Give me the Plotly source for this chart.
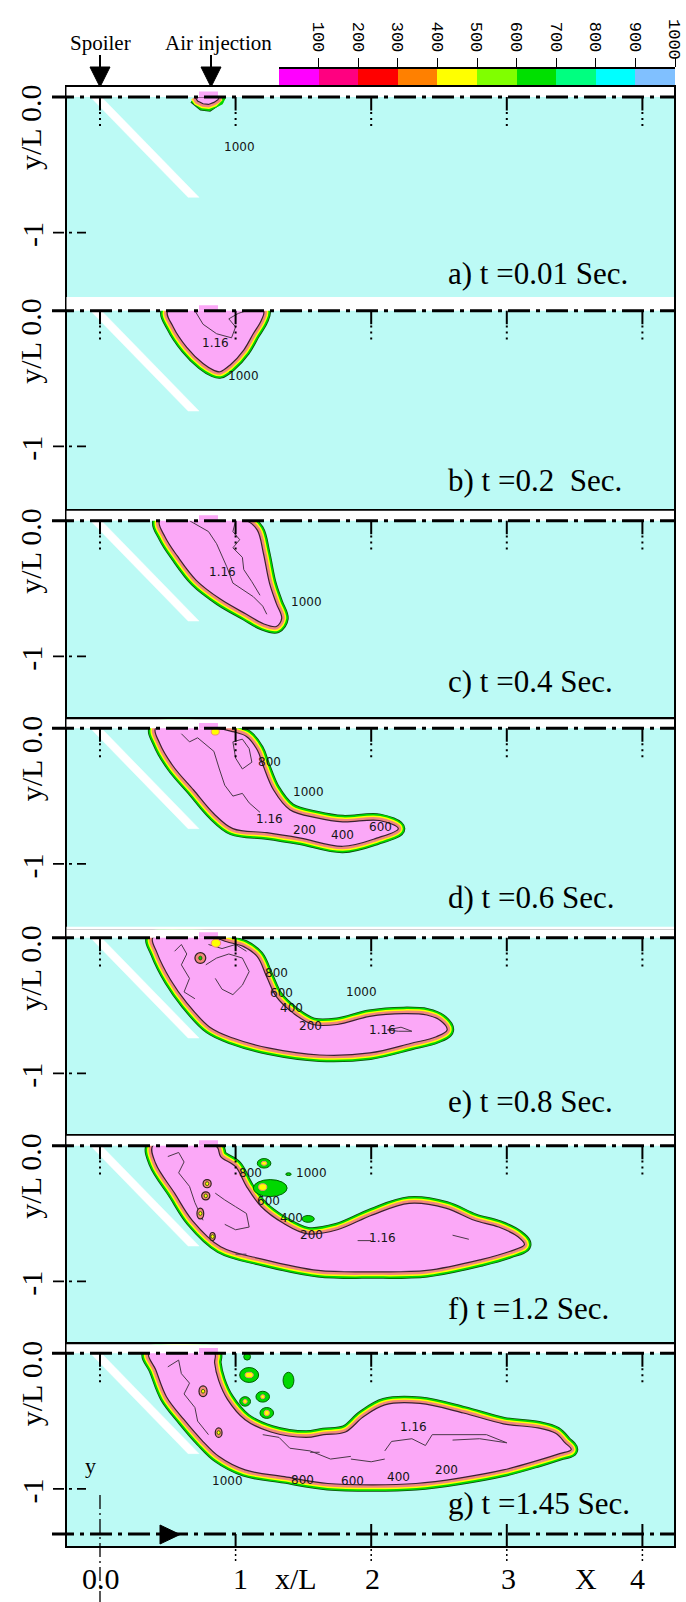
import plotly.graph_objects as go

# ---------------- layout geometry (pixels of the 686x1602 page) ----------------
W, H = 686, 1602
S = 135.6                       # px per unit x/L = y/L (equal aspect)
FRAME_L, FRAME_R, X0_PX = 66.5, 674.0, 100.0
XMIN = (FRAME_L - X0_PX) / S
XMAX = (FRAME_R - X0_PX) / S
panel_top_px = [87, 302, 510.7, 719.3, 929.3, 1135.7, 1344.3]
panel_y0_px = [97, 310.7, 520.7, 728.3, 937.7, 1145.7, 1353.3]
panel_bot_px = [302, 510.7, 719.3, 929.3, 1135.7, 1344.3, 1546]
cyan_bot_px = [297, 510.7, 719.3, 926.7, 1135.7, 1344.3, 1546]
title_px = [274, 480, 682, 897, 1101, 1308, 1503]

# ---------------- data ----------------
panel_titles = ["a) t =0.01 Sec.", "b) t =0.2\u00a0 Sec.", "c) t =0.4 Sec.", "d) t =0.6 Sec.",
                "e) t =0.8 Sec.", "f) t =1.2 Sec.", "g) t =1.45 Sec."]
x_ticks = [0, 1, 2, 3, 4]
cbar_levels = [100, 200, 300, 400, 500, 600, 700, 800, 900, 1000]
cbar_colors = ["#FF00FF", "#FF0080", "#FF0000", "#FF8000", "#FFFF00",
               "#80FF00", "#00E000", "#00FF80", "#00FFFF", "#80C0FF"]

spoiler_x = [-0.07, 0.01, 0.73, 0.65]
spoiler_y = [0.0, 0.0, -0.74, -0.74]
inlet_x = [0.73, 0.87]
inlet_y = [0.0, 0.04]

a_plume_x = [0.70, 0.72, 0.76, 0.80, 0.84, 0.87, 0.88]
a_plume_y = [0.0, -0.03, -0.05, -0.055, -0.04, -0.02, 0.0]
b_plume_x = [0.50, 0.54, 0.64, 0.76, 0.84, 0.885, 0.96, 1.06, 1.13, 1.19, 1.205]
b_plume_y = [0.0, -0.12, -0.27, -0.39, -0.44, -0.45, -0.40, -0.29, -0.17, -0.07, 0.0]
c_plume_x = [0.44, 0.48, 0.57, 0.71, 0.89, 1.08, 1.205, 1.30, 1.34, 1.30, 1.25, 1.205, 1.16, 1.08]
c_plume_y = [0.0, -0.12, -0.26, -0.44, -0.58, -0.69, -0.76, -0.78, -0.72, -0.61, -0.46, -0.24, -0.07, 0.0]
d_plume_x = [0.41, 0.44, 0.54, 0.69, 0.84, 0.98, 1.23, 1.48, 1.79, 2.04, 2.20, 2.06, 1.79, 1.60,
             1.40, 1.28, 1.205, 1.16, 1.08, 0.98, 0.86]
d_plume_y = [0.0, -0.11, -0.28, -0.455, -0.63, -0.74, -0.77, -0.81, -0.87, -0.81, -0.74, -0.68, -0.69,
             -0.66, -0.60, -0.455, -0.28, -0.16, -0.06, -0.025, 0.0]
e_plume_x = [0.39, 0.42, 0.52, 0.64, 0.81, 0.98, 1.25, 1.62, 1.99, 2.29, 2.48, 2.56, 2.51, 2.41, 2.24,
             1.99, 1.75, 1.57, 1.43, 1.30, 1.23, 1.16, 1.06, 0.935, 0.84]
e_plume_y = [0.0, -0.11, -0.31, -0.48, -0.66, -0.74, -0.815, -0.865, -0.85, -0.78, -0.73, -0.68, -0.61,
             -0.57, -0.56, -0.58, -0.64, -0.64, -0.56, -0.435, -0.29, -0.14, -0.066, -0.03, 0.0]
f_plume_x = [0.39, 0.41, 0.55, 0.68, 0.89, 1.21, 1.61, 2.01, 2.41, 2.81, 3.02, 3.13, 3.08, 2.94, 2.76,
             2.55, 2.28, 2.01, 1.75, 1.53, 1.35, 1.19, 1.08, 1.00, 0.89, 0.87, 0.85]
f_plume_y = [0.0, -0.13, -0.35, -0.55, -0.745, -0.84, -0.92, -0.93, -0.92, -0.84, -0.78, -0.73, -0.67,
             -0.60, -0.55, -0.46, -0.425, -0.51, -0.62, -0.65, -0.57, -0.45, -0.30, -0.155, -0.08, -0.02, 0.0]
g_plume_x = [0.36, 0.41, 0.49, 0.62, 0.75, 0.875, 1.07, 1.36, 1.68, 2.01, 2.33, 2.65, 2.975, 3.23, 3.39,
             3.475, 3.43, 3.36, 3.23, 2.975, 2.68, 2.36, 2.10, 1.94, 1.81, 1.65, 1.52, 1.26, 1.07, 0.94,
             0.875, 0.845, 0.845]
g_plume_y = [0.0, -0.12, -0.32, -0.49, -0.64, -0.76, -0.86, -0.91, -0.96, -0.97, -0.96, -0.92, -0.86,
             -0.79, -0.74, -0.71, -0.66, -0.59, -0.55, -0.52, -0.44, -0.37, -0.38, -0.47, -0.58, -0.6,
             -0.62, -0.58, -0.49, -0.34, -0.20, -0.07, 0.0]

# inner 1.16 iso-lines (x list, y list) per panel
b_iso = [([0.70, 0.76, 0.86, 0.97, 1.0, 0.95, 1.02, 1.08], [0.0, -0.1, -0.17, -0.2, -0.12, -0.06, -0.02, 0.0])]
c_iso = [([0.66, 0.80, 0.86, 0.935, 0.98, 1.13, 1.20, 1.23], [0.0, -0.08, -0.17, -0.34, -0.46, -0.56, -0.63, -0.69]),
         ([1.0, 0.98, 1.03, 0.98, 1.05, 1.06, 1.12, 1.18], [0.0, -0.08, -0.14, -0.2, -0.27, -0.36, -0.45, -0.55])]
d_iso = [([0.6, 0.66, 0.72, 0.78, 0.84, 0.88, 0.92, 0.98, 1.05, 1.1, 1.18],
          [-0.04, -0.1, -0.07, -0.12, -0.17, -0.3, -0.42, -0.5, -0.48, -0.55, -0.62]),
         ([0.98, 1.05, 1.1, 1.12, 1.05, 1.0, 0.98], [-0.1, -0.08, -0.15, -0.25, -0.3, -0.22, -0.1])]
e_iso = [([0.55, 0.6, 0.64, 0.6, 0.66, 0.62, 0.7], [-0.1, -0.05, -0.12, -0.2, -0.3, -0.4, -0.45]),
         ([0.78, 0.86, 0.95, 1.05, 1.1, 1.05, 0.98, 0.9, 0.85], [-0.2, -0.15, -0.12, -0.15, -0.25, -0.35, -0.42, -0.38, -0.3]),
         ([0.8, 0.9, 1.0, 1.08], [-0.05, -0.08, -0.05, -0.1]),
         ([2.12, 2.22, 2.3, 2.2, 2.12], [-0.68, -0.66, -0.69, -0.69, -0.68])]
f_iso = [([0.5, 0.58, 0.62, 0.58, 0.66, 0.7, 0.76], [-0.08, -0.05, -0.12, -0.2, -0.3, -0.42, -0.55]),
         ([0.85, 0.92, 1.0, 1.08, 1.1, 1.0, 0.92], [-0.35, -0.4, -0.45, -0.5, -0.6, -0.62, -0.58]),
         ([1.0, 1.08], [-0.8, -0.8]), ([1.9, 2.0], [-0.7, -0.7]), ([2.6, 2.72], [-0.66, -0.69])]
g_iso = [([0.5, 0.58, 0.6, 0.66, 0.62, 0.7, 0.72, 0.8], [-0.1, -0.05, -0.15, -0.22, -0.3, -0.4, -0.5, -0.6]),
         ([1.2, 1.32, 1.4, 1.55, 1.7, 1.85], [-0.6, -0.62, -0.7, -0.72, -0.78, -0.76]),
         ([2.1, 2.15, 2.3, 2.4, 2.45, 2.6, 2.85, 3.0, 2.8, 2.6], [-0.72, -0.65, -0.63, -0.68, -0.6, -0.6, -0.6, -0.66, -0.63, -0.64]),
         ([1.85, 2.0, 2.1], [-0.78, -0.8, -0.78]), ([1.55, 1.62], [-0.73, -0.73])]

# contour labels
a_lbl = (["1000"], [1.03], [-0.37])
b_lbl = (["1.16", "1000"], [0.85, 1.06], [-0.24, -0.48])
c_lbl = (["1.16", "1000"], [0.905, 1.525], [-0.38, -0.60])
d_lbl = (["800", "1000", "1.16", "200", "400", "600"], [1.25, 1.54, 1.25, 1.51, 1.79, 2.07],
         [-0.25, -0.47, -0.67, -0.75, -0.79, -0.725])
e_lbl = (["800", "600", "400", "200", "1000", "1.16"], [1.30, 1.34, 1.41, 1.55, 1.93, 2.08],
         [-0.26, -0.41, -0.52, -0.65, -0.40, -0.68])
f_lbl = (["800", "1000", "600", "400", "200", "1.16"], [1.11, 1.56, 1.24, 1.41, 1.56, 2.08],
         [-0.20, -0.20, -0.41, -0.535, -0.66, -0.68])
g_lbl = (["1.16", "200", "400", "600", "800", "1000"], [2.31, 2.555, 2.20, 1.86, 1.49, 0.94],
         [-0.54, -0.86, -0.91, -0.94, -0.935, -0.94])

# isolated blobs: (x0, x1, y0, y1) bounding boxes
d_spots = [(0.82, 0.88, -0.05, 0.0)]
e_spots = [(0.82, 0.89, -0.07, -0.01)]
e_rings = [(0.70, 0.78, -0.19, -0.11)]
f_green = [(1.16, 1.26, -0.165, -0.095), (1.13, 1.38, -0.375, -0.25), (1.49, 1.58, -0.565, -0.515), (1.37, 1.41, -0.22, -0.2)]
f_yellow = [(1.19, 1.23, -0.145, -0.115), (1.17, 1.23, -0.33, -0.28)]
f_rings = [(0.76, 0.82, -0.31, -0.25), (0.75, 0.81, -0.40, -0.34), (0.715, 0.765, -0.54, -0.46), (0.81, 0.85, -0.70, -0.64)]
g_green = [(1.03, 1.17, -0.215, -0.105), (1.35, 1.43, -0.26, -0.14), (1.15, 1.25, -0.36, -0.28),
           (1.03, 1.11, -0.39, -0.32), (1.18, 1.28, -0.48, -0.40), (1.06, 1.11, -0.05, 0.0)]
g_yellow = [(1.07, 1.13, -0.18, -0.14), (1.185, 1.215, -0.335, -0.305), (1.055, 1.085, -0.37, -0.34), (1.21, 1.25, -0.46, -0.42)]
g_rings = [(0.73, 0.79, -0.32, -0.24), (0.85, 0.90, -0.62, -0.55)]

plumes = [(a_plume_x, a_plume_y), (b_plume_x, b_plume_y), (c_plume_x, c_plume_y), (d_plume_x, d_plume_y),
          (e_plume_x, e_plume_y), (f_plume_x, f_plume_y), (g_plume_x, g_plume_y)]
isos = [[], b_iso, c_iso, d_iso, e_iso, f_iso, g_iso]
labels = [a_lbl, b_lbl, c_lbl, d_lbl, e_lbl, f_lbl, g_lbl]
greens = [[], [], [], [], [], f_green, g_green]
yellows = [[], [], [], d_spots, e_spots, f_yellow, g_yellow]
rings = [[], [], [], [], e_rings, f_rings, g_rings]

# ---------------- styles ----------------
CYAN = "#BCFAF5"
PINK = "#FBA8F7"
SALMON = "#F2877E"
YELLOW = "#FFFF00"
GREEN = "#00D800"
SERIF = "Liberation Serif"


def pxx(p):
    return p / W


def pxy(p):
    return 1 - p / H


fig = go.Figure()
shapes = []
annotations = []
layout = {}

for i in range(7):
    n = "" if i == 0 else str(i + 1)
    xa, ya = "x" + n, "y" + n
    top, y0, bot = panel_top_px[i], panel_y0_px[i], panel_bot_px[i]
    ax_style = dict(showline=True, mirror=True, linecolor="black", linewidth=1.5,
                    showgrid=False, zeroline=False, showticklabels=False, ticks="", fixedrange=True)
    layout["xaxis" + n] = dict(domain=[pxx(FRAME_L), pxx(FRAME_R)], range=[XMIN, XMAX], anchor=ya, **ax_style)
    layout["yaxis" + n] = dict(domain=[pxy(bot), pxy(top)], range=[-(bot - y0) / S, (y0 - top) / S],
                               anchor=xa, **ax_style)

    # spoiler (white stripe)
    fig.add_trace(go.Scatter(x=spoiler_x + [spoiler_x[0]], y=spoiler_y + [spoiler_y[0]], mode="lines",
                             fill="toself", fillcolor="white", line=dict(color="white", width=0.5),
                             xaxis=xa, yaxis=ya, hoverinfo="skip", showlegend=False))
    # plume with colored edge bands
    px_, py_ = plumes[i]
    cx, cy = px_ + [px_[0]], py_ + [py_[0]]
    shp = "linear" if i == 0 else "spline"
    for col, w in [("#0B4A0B", 14), (GREEN, 12.5), (YELLOW, 9), (SALMON, 6)]:
        fig.add_trace(go.Scatter(x=cx, y=cy, mode="lines", fill="toself", fillcolor=col,
                                 line=dict(color=col, width=w, shape=shp),
                                 xaxis=xa, yaxis=ya, hoverinfo="skip", showlegend=False))
    fig.add_trace(go.Scatter(x=cx, y=cy, mode="lines", fill="toself", fillcolor=PINK,
                             line=dict(color="#3a2030", width=1.2, shape=shp),
                             xaxis=xa, yaxis=ya, hoverinfo="skip", showlegend=False))
    for lx, ly in isos[i]:
        fig.add_trace(go.Scatter(x=lx, y=ly, mode="lines", line=dict(color="#4a3848", width=1),
                                 xaxis=xa, yaxis=ya, hoverinfo="skip", showlegend=False))

    # blobs
    for (x0, x1, y0b, y1b) in greens[i]:
        shapes.append(dict(type="circle", xref=xa, yref=ya, x0=x0, x1=x1, y0=y0b, y1=y1b,
                           fillcolor=GREEN, line=dict(color="#006000", width=1), layer="above"))
    for (x0, x1, y0b, y1b) in rings[i]:
        shapes.append(dict(type="circle", xref=xa, yref=ya, x0=x0, x1=x1, y0=y0b, y1=y1b,
                           fillcolor=SALMON, line=dict(color="#302020", width=1.2), layer="above"))
        mx, my = (x0 + x1) / 2, (y0b + y1b) / 2
        shapes.append(dict(type="circle", xref=xa, yref=ya, x0=mx - 0.012, x1=mx + 0.012, y0=my - 0.014,
                           y1=my + 0.014, fillcolor=GREEN if i == 4 else YELLOW,
                           line=dict(color="#205000", width=0.8), layer="above"))
    for (x0, x1, y0b, y1b) in yellows[i]:
        shapes.append(dict(type="circle", xref=xa, yref=ya, x0=x0, x1=x1, y0=y0b, y1=y1b,
                           fillcolor=YELLOW, line=dict(color=SALMON, width=1), layer="above"))

    # white strip above y=0 and the pink inlet
    shapes.append(dict(type="rect", xref=xa, yref=ya, x0=XMIN - 1, x1=XMAX + 1, y0=0, y1=0.3,
                       fillcolor="white", line=dict(width=0), layer="above"))
    if cyan_bot_px[i] < bot:
        shapes.append(dict(type="rect", xref=xa, yref=ya, x0=XMIN - 1, x1=XMAX + 1,
                           y0=-(bot - y0) / S - 0.1, y1=-(cyan_bot_px[i] - y0) / S,
                           fillcolor="white", line=dict(width=0), layer="above"))
    shapes.append(dict(type="rect", xref=xa, yref=ya, x0=inlet_x[0], x1=inlet_x[1], y0=inlet_y[0],
                       y1=inlet_y[1], fillcolor=PINK, line=dict(width=0), layer="above"))

    # dash-dot line at y = 0
    shapes.append(dict(type="line", xref="paper", yref="paper", x0=pxx(52), x1=pxx(FRAME_R),
                       y0=pxy(y0), y1=pxy(y0), line=dict(color="black", width=3, dash="22px,6px,4px,6px"),
                       layer="above"))
    # ticks hanging from y = 0
    for k in x_ticks:
        shapes.append(dict(type="line", xref=xa, yref=ya, x0=k, x1=k, y0=0, y1=-0.1,
                           line=dict(color="black", width=2), layer="above"))
        shapes.append(dict(type="line", xref=xa, yref=ya, x0=k, x1=k, y0=-0.11, y1=-0.22,
                           line=dict(color="black", width=2, dash="2px,4px"), layer="above"))
    # y = -1 tick on the left
    shapes.append(dict(type="line", xref="paper", yref="paper", x0=pxx(53), x1=pxx(86),
                       y0=pxy(y0 + S), y1=pxy(y0 + S),
                       line=dict(color="black", width=1.8, dash="11px,5px,3px,5px"), layer="above"))

    # text
    annotations.append(dict(xref="paper", yref="paper", x=pxx(31), y=pxy(y0 + 30), text="y/L 0.0",
                            textangle=-90, showarrow=False, xanchor="center", yanchor="middle",
                            font=dict(family=SERIF, size=30, color="black")))
    annotations.append(dict(xref="paper", yref="paper", x=pxx(32), y=pxy(y0 + S + 2.5), text="-1",
                            textangle=-90, showarrow=False, xanchor="center", yanchor="middle",
                            font=dict(family=SERIF, size=30, color="black")))
    annotations.append(dict(xref="paper", yref="paper", x=pxx(446), y=pxy(title_px[i]), text=panel_titles[i],
                            showarrow=False, xanchor="left", yanchor="middle",
                            font=dict(family=SERIF, size=31, color="black")))
    t_, lx_, ly_ = labels[i]
    for t, lx, ly in zip(t_, lx_, ly_):
        annotations.append(dict(xref=xa, yref=ya, x=lx, y=ly, text=t, showarrow=False,
                                font=dict(family="DejaVu Sans", size=12, color="#151515")))

# ---------------- colour bar ----------------
cs = []
for k, c in enumerate(cbar_colors):
    cs.append([k / len(cbar_colors), c])
    cs.append([(k + 1) / len(cbar_colors), c])
fig.add_trace(go.Heatmap(z=[list(range(len(cbar_levels)))], x=[0] + cbar_levels, y=[0],
                         colorscale=cs, zmin=-0.5, zmax=len(cbar_levels) - 0.5, showscale=False,
                         xaxis="x8", yaxis="y8", hoverinfo="skip"))
# last label is drawn as an annotation so it stays inside the page
cbar_ticktext = [str(v) for v in cbar_levels[:-1]] + [""]
layout["xaxis8"] = dict(domain=[pxx(279), pxx(675)], range=[0, 1000], anchor="y8", side="top",
                        tickvals=cbar_levels, ticktext=cbar_ticktext, tickangle=90,
                        ticks="outside", ticklen=9, tickwidth=1.2, tickcolor="black",
                        showline=True, linecolor="black", linewidth=1.5, showgrid=False, zeroline=False,
                        tickfont=dict(family="Liberation Mono", size=17, color="black"), fixedrange=True)
layout["yaxis8"] = dict(domain=[pxy(85), pxy(69)], range=[-0.5, 0.5], anchor="x8", visible=False,
                        fixedrange=True)
annotations.append(dict(xref="paper", yref="paper", x=pxx(684), y=pxy(61), text=str(cbar_levels[-1]),
                        textangle=90, showarrow=False, xanchor="right", yanchor="bottom", borderpad=0,
                        font=dict(family="Liberation Mono", size=17, color="black")))

# ---------------- header arrows ----------------
for label, xc in [("Spoiler", 100), ("Air injection", 211)]:
    annotations.append(dict(xref="paper", yref="paper", x=pxx(xc + (7 if xc > 150 else 0)), y=pxy(43),
                            text=label, showarrow=False, xanchor="center", yanchor="middle",
                            font=dict(family=SERIF, size=21, color="black")))
    shapes.append(dict(type="line", xref="paper", yref="paper", x0=pxx(xc), x1=pxx(xc), y0=pxy(55),
                       y1=pxy(68), line=dict(color="black", width=2)))
    shapes.append(dict(type="path", xref="paper", yref="paper",
                       path=f"M {pxx(xc - 10)} {pxy(67)} L {pxx(xc + 10)} {pxy(67)} L {pxx(xc)} {pxy(87)} Z",
                       fillcolor="black", line=dict(color="black", width=1)))

# ---------------- bottom axis decorations (panel g) ----------------
ybl = 1534
shapes.append(dict(type="line", xref="paper", yref="paper", x0=pxx(52), x1=pxx(FRAME_R), y0=pxy(ybl),
                   y1=pxy(ybl), line=dict(color="black", width=3, dash="22px,6px,4px,6px"), layer="above"))
shapes.append(dict(type="path", xref="paper", yref="paper",
                   path=f"M {pxx(160)} {pxy(1525)} L {pxx(160)} {pxy(1544)} L {pxx(180)} {pxy(1534.5)} Z",
                   fillcolor="black", line=dict(color="black", width=1), layer="above"))
for k in x_ticks[1:]:
    xp = X0_PX + k * S
    shapes.append(dict(type="line", xref="paper", yref="paper", x0=pxx(xp), x1=pxx(xp),
                       y0=pxy(1524 if k > 1 else 1534), y1=pxy(1546),
                       line=dict(color="black", width=2), layer="above"))
    shapes.append(dict(type="line", xref="paper", yref="paper", x0=pxx(xp), x1=pxx(xp), y0=pxy(1549),
                       y1=pxy(1564), line=dict(color="black", width=1.5, dash="2px,3px")))
shapes.append(dict(type="line", xref="paper", yref="paper", x0=pxx(X0_PX), x1=pxx(X0_PX), y0=pxy(1495),
                   y1=pxy(1602), line=dict(color="black", width=1.3, dash="14px,4px,2px,4px"), layer="above"))
annotations.append(dict(xref="paper", yref="paper", x=pxx(83), y=pxy(1480), text="y", showarrow=False,
                        font=dict(family=SERIF, size=22, color="black")))
for txt, xc in [("0.0", 101), ("1", 241), ("x/L", 296), ("2", 372), ("3", 509), ("X", 586), ("4", 637)]:
    annotations.append(dict(xref="paper", yref="paper", x=pxx(xc), y=pxy(1578), text=txt, showarrow=False,
                            xanchor="center", yanchor="middle", font=dict(family=SERIF, size=30, color="black")))

fig.update_layout(width=W, height=H, margin=dict(l=0, r=0, t=0, b=0), paper_bgcolor="white",
                  plot_bgcolor=CYAN, showlegend=False, shapes=shapes, annotations=annotations,
                  font=dict(family=SERIF), **layout)
fig.write_html("out.html", config={"displayModeBar": False},
               post_script="document.documentElement.style.overflow='hidden';"
                           "document.body.style.margin='0px';document.body.style.padding='0px';"
                           "document.body.style.overflow='hidden';"
                           "document.querySelectorAll('.svg-container').forEach(function(e){e.style.overflow='hidden';});")
